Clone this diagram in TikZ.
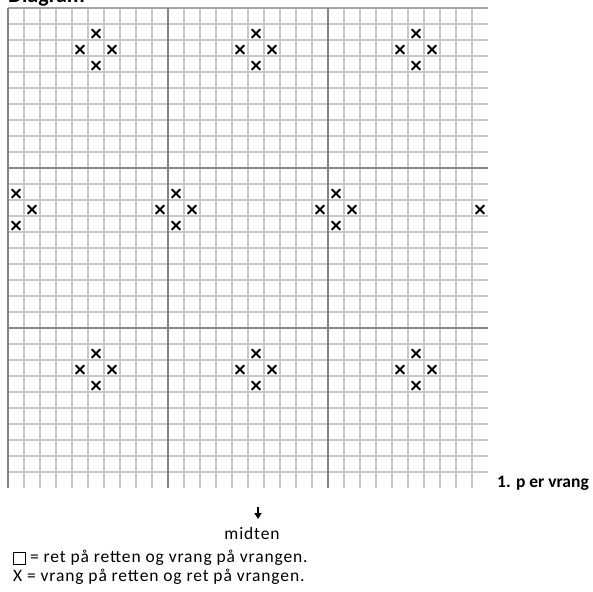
\documentclass[tikz,border=0pt]{standalone}
\usepackage{fontspec}
\setmainfont{Carlito}
\newfontfamily\legendfont{Carlito}[LetterSpace=5]
\usetikzlibrary{arrows.meta}
\definecolor{thinline}{HTML}{C8C8C8}
\definecolor{heavyline}{HTML}{858585}
\begin{document}
\begin{tikzpicture}[x=1pt,y=-1pt,
  thingrid/.style={draw=thinline, line width=1.1pt},
  heavygrid/.style={draw=heavyline, line width=1.6pt},
  crossmark/.style={draw=black, line width=1.9pt},
  legtxt/.style={inner sep=0pt, font=\legendfont\fontsize{17.5}{20}\selectfont},
  boldtxt/.style={inner sep=0pt, font=\bfseries\fontsize{17.5}{20}\selectfont}]
\useasboundingbox (0,0) rectangle (593,591);
\begin{scope}
\clip (0,0) rectangle (593,591);
\node[anchor=base west, inner sep=0pt, font=\bfseries\fontsize{22}{26}\selectfont] (title) at (8,2.5) {Diagram};
\end{scope}
% thin grid
\foreach \i in {1,...,29} \draw[thingrid] (8+16*\i,8) -- (8+16*\i,488);
\foreach \j in {1,...,29} \draw[thingrid] (8,8+16*\j) -- (488,8+16*\j);
\draw[thingrid, draw=heavyline!75] (8,8) -- (488,8);
% heavy lines
\foreach \v in {8,168,328} \draw[heavygrid] (\v,8) -- (\v,488);
\foreach \h in {168,328} \draw[heavygrid] (8,\h) -- (488,\h);
% crosses (col,row)
\foreach \c/\r in {5/1,4/2,6/2,5/3, 15/1,14/2,16/2,15/3, 25/1,24/2,26/2,25/3,
  0/11,1/12,0/13, 9/12,10/11,11/12,10/13, 19/12,20/11,21/12,20/13, 29/12,
  5/21,4/22,6/22,5/23, 15/21,14/22,16/22,15/23, 25/21,24/22,26/22,25/23}{
  \draw[crossmark] (16+16*\c-4.3,17.5+16*\r-4.3) -- (16+16*\c+4.3,17.5+16*\r+4.3)
                   (16+16*\c-4.3,17.5+16*\r+4.3) -- (16+16*\c+4.3,17.5+16*\r-4.3);
}
\node[boldtxt, anchor=west] (row1) at (497,483) {1. p er vrang};
\coordinate (arrtop) at (258,507);
\coordinate (arrbot) at (258,519);
\draw[line width=1.6pt, -{Triangle[width=7pt,length=6pt]}] (arrtop) -- (arrbot);
\node[legtxt] (midten) at (252,533) {midten};
\node[draw, line width=0.8pt, minimum size=12pt, inner sep=0pt] (box) at (19,558) {};
\node[legtxt, anchor=west] (leg1) at (30,558) {= ret på retten og vrang på vrangen.};
\node[legtxt, anchor=west] (leg2) at (13,577) {X = vrang på retten og ret på vrangen.};
\end{tikzpicture}
\end{document}
